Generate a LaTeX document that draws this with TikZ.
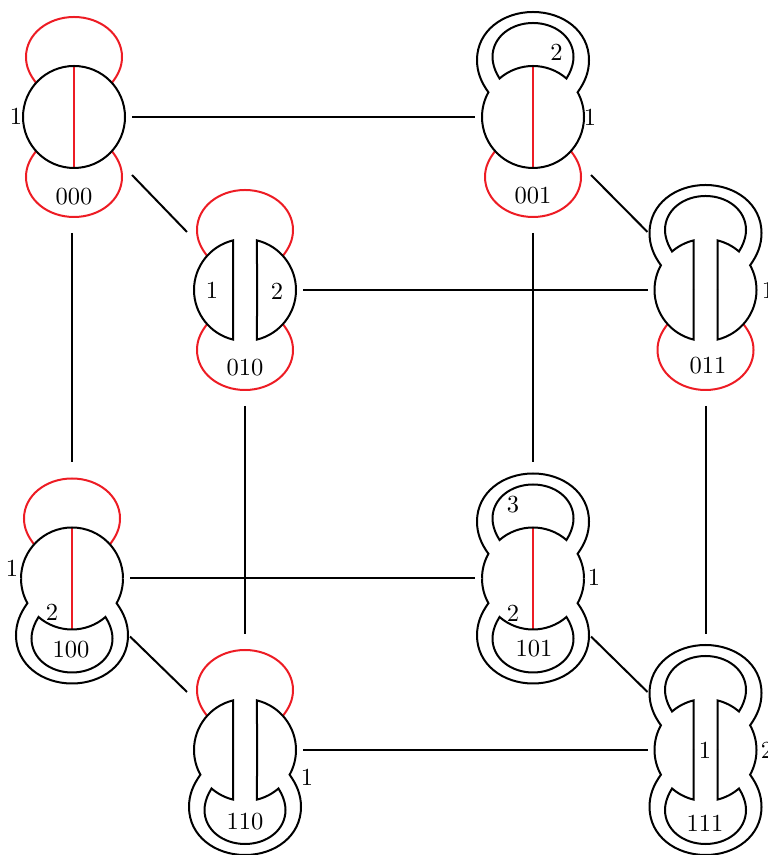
\documentclass[tikz,border=0pt]{standalone}
\definecolor{loopred}{RGB}{237,28,36}
\newcommand{\redloop}{\draw[redblob] (42:51) .. controls (44,42) and (48,50) .. (48,60) .. controls (48,83) and (26,100) .. (0,100)
      .. controls (-26,100) and (-48,83) .. (-48,60) .. controls (-48,50) and (-44,42) .. (138:51);}
\newcommand{\ringout}{\draw[blob] (0:51) arc[start angle=0, end angle=29, radius=51] .. controls (52,35) and (56,45) .. (56,57)
      .. controls (56,86) and (30,105) .. (0,105) .. controls (-30,105) and (-56,86) .. (-56,57)
      .. controls (-56,45) and (-52,35) .. (151:51) arc[start angle=151, end angle=180, radius=51];}
\tikzset{
  statebox/.style={rectangle, minimum width=87pt, minimum height=174pt, inner sep=0pt, outer sep=0pt},
  num/.style={inner sep=0pt, scale=1.84},
  edge/.style={line width=1.5pt},
  blob/.style={line width=1.5pt},
  redblob/.style={line width=1.5pt, loopred},
  pics/redbar/.style={code={
    \draw[redblob] (0,51) -- (0,-51);
  }},
  pics/redcap/.style={code={
    \redloop
    \draw[blob] (0:51) arc[start angle=0, end angle=180, radius=51];
  }},
  pics/redcapcut/.style={code={
    \redloop
    \draw[blob] (12,0) -- (76.4:51) arc[start angle=76.4, end angle=0, radius=51];
    \draw[blob] (-12,0) -- (103.6:51) arc[start angle=103.6, end angle=180, radius=51];
  }},
  pics/ringcap/.style={code={
    \ringout
    \draw[blob] (49:51) .. controls (37,44) and (40.5,52) .. (40.5,60) .. controls (40.5,80) and (22,94) .. (0,94)
      .. controls (-22,94) and (-40.5,80) .. (-40.5,60) .. controls (-40.5,52) and (-37,44) .. (131:51)
      arc[start angle=131, end angle=49, radius=51] -- cycle;
  }},
  pics/ringcapcut/.style={code={
    \ringout
    \draw[blob] (12,0) -- (76.4:51) arc[start angle=76.4, end angle=49, radius=51]
      .. controls (37,44) and (40.5,52) .. (40.5,60) .. controls (40.5,80) and (22,94) .. (0,94)
      .. controls (-22,94) and (-40.5,80) .. (-40.5,60) .. controls (-40.5,52) and (-37,44) .. (131:51)
      arc[start angle=131, end angle=103.6, radius=51] -- (-12,0);
  }},
}
\begin{document}
\begin{tikzpicture}[x=.75pt, y=.75pt]
\useasboundingbox (0,0) rectangle (767,855);
\node[statebox] (st000) at (74,738){};
\pic at (st000) {redbar};
\pic at (st000) {redcap};
\pic[yscale=-1] at (st000) {redcap};
\node[num] (st000a) at (16,739){1};
\node[num] (st000n) at (74,658){000};
\node[statebox] (st001) at (533,738){};
\pic at (st001) {redbar};
\pic at (st001) {ringcap};
\pic[yscale=-1] at (st001) {redcap};
\node[num] (st001a) at (556.5,803){2};
\node[num] (st001b) at (590,738){1};
\node[num] (st001n) at (533,659){001};
\node[statebox] (st010) at (245,565){};
\pic at (st010) {redcapcut};
\pic[yscale=-1] at (st010) {redcapcut};
\node[num] (st010a) at (212,565){1};
\node[num] (st010b) at (277,564){2};
\node[num] (st010n) at (245,487){010};
\node[statebox] (st011) at (705.5,565){};
\pic at (st011) {ringcapcut};
\pic[yscale=-1] at (st011) {redcapcut};
\node[num] (st011a) at (768,565){1};
\node[num] (st011n) at (708,489){011};
\node[statebox] (st100) at (72,276.5){};
\pic at (st100) {redbar};
\pic at (st100) {redcap};
\pic[yscale=-1] at (st100) {ringcap};
\node[num] (st100a) at (12,287){1};
\node[num] (st100b) at (52,243){2};
\node[num] (st100n) at (71,205){100};
\node[statebox] (st101) at (533,276.5){};
\pic at (st101) {redbar};
\pic at (st101) {ringcap};
\pic[yscale=-1] at (st101) {ringcap};
\node[num] (st101a) at (513,350){3};
\node[num] (st101b) at (513,242){2};
\node[num] (st101c) at (594,278){1};
\node[num] (st101n) at (534,206){101};
\node[statebox] (st110) at (245,105){};
\pic at (st110) {redcapcut};
\pic[yscale=-1] at (st110) {ringcapcut};
\node[num] (st110a) at (307,78){1};
\node[num] (st110n) at (245,33){110};
\node[statebox] (st111) at (705.5,105){};
\pic at (st111) {ringcapcut};
\pic[yscale=-1] at (st111) {ringcapcut};
\node[num] (st111a) at (705,105){1};
\node[num] (st111b) at (767,105){2};
\node[num] (st111n) at (705,32){111};
\draw[edge](st000.east) -- (st001.west);
\draw[edge](st000.-45) -- (st010.135);
\draw[edge](st100.north |- st000.south) -- (st100.north);
\draw[edge](st001.-45) -- (st011.135);
\draw[edge](st001.south) -- (st101.north);
\draw[edge](st010.east) -- (st011.west);
\draw[edge](st010.south) -- (st110.north);
\draw[edge](st011.south) -- (st111.north);
\draw[edge](st100.east) -- (st101.west);
\draw[edge](st100.-45) -- (st110.135);
\draw[edge](st101.-45) -- (st111.135);
\draw[edge](st110.east) -- (st111.west);
\end{tikzpicture}
\end{document}
